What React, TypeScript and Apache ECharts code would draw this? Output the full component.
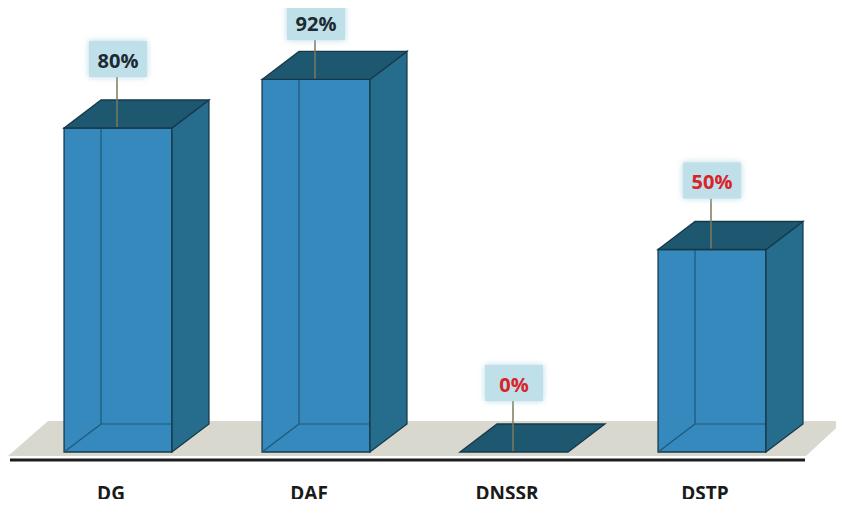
import React, { useEffect, useRef } from "react";
import * as echarts from "echarts";

const categories = ["DG", "DAF", "DNSSR", "DSTP"];
const values = [80, 92, 0, 50];
const labelColors = ["#1b2a33", "#1b2a33", "#d8232a", "#d8232a"];

export default function App() {
  const ref = useRef<HTMLDivElement>(null);
  useEffect(() => {
    const chart = echarts.init(ref.current!, null, { renderer: "svg" });
    const DX = 37;
    const DY = -28;
    const renderItem = (params: any, api: any) => {
      const i = api.value(0);
      const v = api.value(1);
      const top = api.coord([i, v]);
      const base = api.coord([i, 0]);
      const cx = top[0];
      const w = api.size([1, 0])[0] * 0.545;
      const x0 = cx - w / 2;
      const x1 = cx + w / 2;
      const yt = top[1];
      const yb = base[1];
      const edge = { stroke: "#17384a", lineWidth: 1.3 };
      const inner = { stroke: "#1f5878", lineWidth: 1.2, fill: null };
      const children: any[] = [];
      if (v > 0) {
        children.push({
          type: "rect",
          shape: { x: x0, y: yt, width: w, height: yb - yt },
          style: { fill: "#3589bd", ...edge },
        });
        children.push({
          type: "polyline",
          shape: { points: [[x0 + DX, yt + DY], [x0 + DX, yb + DY], [x1 + DX, yb + DY]] },
          style: inner,
        });
        children.push({
          type: "line",
          shape: { x1: x0, y1: yb, x2: x0 + DX, y2: yb + DY },
          style: inner,
        });
        children.push({
          type: "polygon",
          shape: { points: [[x1, yt], [x1 + DX, yt + DY], [x1 + DX, yb + DY], [x1, yb]] },
          style: { fill: "#256c8d", ...edge },
        });
      }
      children.push({
        type: "polygon",
        shape: { points: [[x0, yt], [x0 + DX, yt + DY], [x1 + DX, yt + DY], [x1, yt]] },
        style: { fill: "#1e5770", ...edge },
      });
      // label
      const ly = Math.max(yt - 69, 22);
      children.push({
        type: "line",
        shape: { x1: cx - 1, y1: ly + 18, x2: cx - 1, y2: yt - 1 },
        style: { stroke: "#7d7a5c", lineWidth: 1.5 },
      });
      children.push({
        type: "rect",
        shape: { x: cx - 29, y: ly - 18, width: 58, height: 36 },
        style: { fill: "#bfe0e8", shadowBlur: 6, shadowColor: "rgba(150,200,215,0.7)" },
      });
      children.push({
        type: "text",
        style: {
          text: v + "%",
          x: cx,
          y: ly + 1,
          align: "center",
          verticalAlign: "middle",
          fill: labelColors[params.dataIndex],
          font: "bold 20px 'Open Sans', 'Liberation Sans', sans-serif",
        },
      });
      return { type: "group", children };
    };

    chart.setOption({
      animation: false,
      backgroundColor: "#ffffff",
      grid: { left: 19, right: 33, top: 47, bottom: 55 },
      xAxis: {
        type: "category",
        data: categories,
        axisLine: { show: false },
        axisTick: { show: false },
        axisLabel: {
          margin: 31,
          padding: [0, 14, 0, 0],
          color: "#1a1a1a",
          fontSize: 19,
          fontWeight: "bold",
          fontFamily: "'Open Sans', 'Liberation Sans', sans-serif",
        },
      },
      yAxis: { type: "value", min: 0, max: 100, show: false, splitLine: { show: false } },
      graphic: [
        {
          type: "polygon",
          z: 0,
          shape: { points: [[8, 456], [48, 421], [844, 421], [806, 456]] },
          style: { fill: "#d9d8cf" },
        },
        {
          type: "line",
          z: 0,
          shape: { x1: 10, y1: 460, x2: 805, y2: 460 },
          style: { stroke: "#1c1c1c", lineWidth: 3 },
        },
      ],
      series: [
        {
          type: "custom",
          z: 5,
          renderItem,
          data: values.map((v, i) => [i, v]),
        },
      ],
    });
    return () => chart.dispose();
  }, []);
  return <div ref={ref} style={{ width: 844, height: 507, margin: -8 }} />;
}
